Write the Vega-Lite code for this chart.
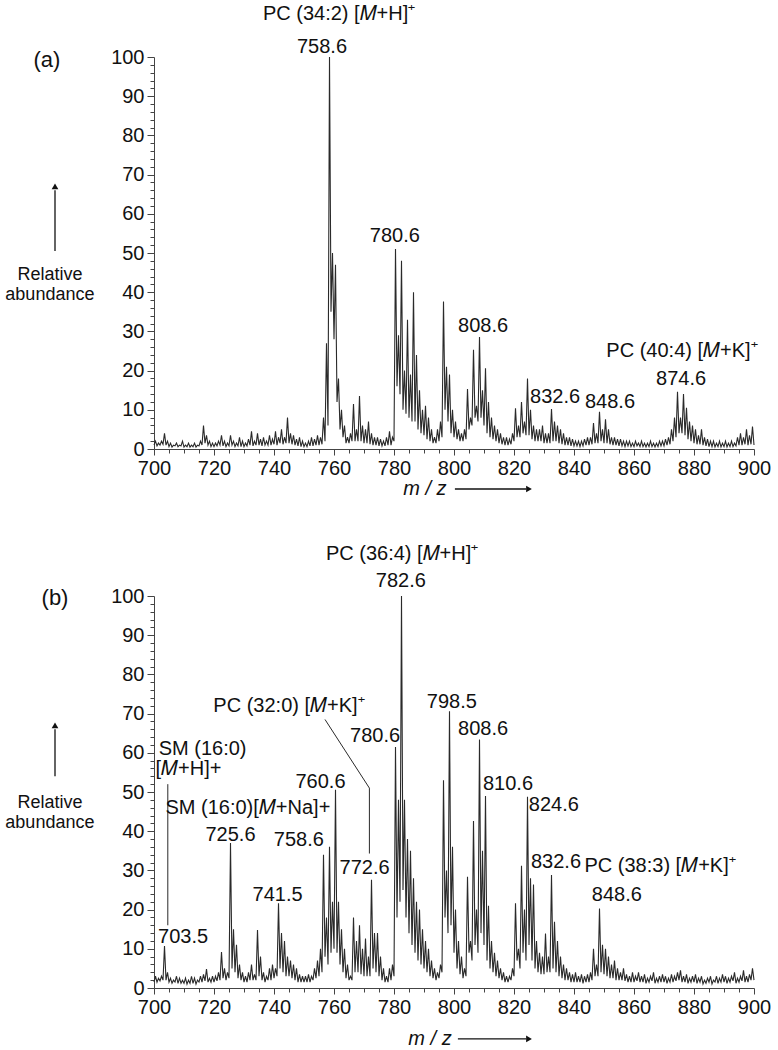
{
"$schema": "https://vega.github.io/schema/vega-lite/v6.json",
"background": "white",
"padding": {"left": 5, "top": 3, "right": 5, "bottom": 5},
"spacing": 45,
"config": {"view": {"stroke": null}, "font": "Liberation Sans",
 "axis": {"grid": false, "domainColor": "#444", "tickColor": "#444", "labelColor": "#111", "labelFont": "Liberation Sans", "labelFontSize": 20}},
"datasets": {
"specA": [{"m":700,"v":1},{"m":700.5,"v":2},{"m":701,"v":0.8},{"m":701.5,"v":1.5},{"m":702,"v":1},{"m":702.5,"v":2},{"m":703,"v":1.2},{"m":703.5,"v":4},{"m":704,"v":1},{"m":704.5,"v":2},{"m":705,"v":0.6},{"m":705.5,"v":1.5},{"m":706,"v":0.5},{"m":706.5,"v":1},{"m":707,"v":0.8},{"m":707.5,"v":1.5},{"m":708,"v":0.6},{"m":708.5,"v":1},{"m":709,"v":0.8},{"m":709.5,"v":2},
{"m":710,"v":0.5},{"m":710.5,"v":1},{"m":711,"v":0.6},{"m":711.5,"v":1.5},{"m":712,"v":0.5},{"m":712.5,"v":1},{"m":713,"v":0.6},{"m":713.5,"v":1.5},{"m":714,"v":0.5},{"m":714.5,"v":1},{"m":715,"v":0.8},{"m":715.5,"v":2},{"m":716,"v":1},{"m":716.5,"v":6},{"m":717,"v":1.5},{"m":717.5,"v":3.5},{"m":718,"v":1},{"m":718.5,"v":2},{"m":719,"v":0.6},{"m":719.5,"v":1.5},
{"m":720,"v":0.6},{"m":720.5,"v":1.5},{"m":721,"v":0.8},{"m":721.5,"v":2},{"m":722,"v":1},{"m":722.5,"v":3.5},{"m":723,"v":0.8},{"m":723.5,"v":2},{"m":724,"v":0.6},{"m":724.5,"v":1.5},{"m":725,"v":0.8},{"m":725.5,"v":3.5},{"m":726,"v":1},{"m":726.5,"v":2},{"m":727,"v":0.6},{"m":727.5,"v":1.5},{"m":728,"v":0.8},{"m":728.5,"v":3},{"m":729,"v":0.6},{"m":729.5,"v":2},
{"m":730,"v":0.6},{"m":730.5,"v":1.5},{"m":731,"v":0.8},{"m":731.5,"v":2.5},{"m":732,"v":1},{"m":732.5,"v":4.5},{"m":733,"v":0.8},{"m":733.5,"v":2},{"m":734,"v":1},{"m":734.5,"v":4},{"m":735,"v":1},{"m":735.5,"v":2.5},{"m":736,"v":0.8},{"m":736.5,"v":3},{"m":737,"v":1},{"m":737.5,"v":2},{"m":738,"v":1},{"m":738.5,"v":3.5},{"m":739,"v":1},{"m":739.5,"v":2.5},
{"m":740,"v":1.2},{"m":740.5,"v":4.5},{"m":741,"v":1},{"m":741.5,"v":3},{"m":742,"v":1.5},{"m":742.5,"v":5},{"m":743,"v":1.2},{"m":743.5,"v":3},{"m":744,"v":1.5},{"m":744.5,"v":8},{"m":745,"v":1.5},{"m":745.5,"v":4},{"m":746,"v":1.2},{"m":746.5,"v":3.5},{"m":747,"v":1},{"m":747.5,"v":2.5},{"m":748,"v":0.8},{"m":748.5,"v":3},{"m":749,"v":0.6},{"m":749.5,"v":2},
{"m":750,"v":0.6},{"m":750.5,"v":1.5},{"m":751,"v":0.6},{"m":751.5,"v":2},{"m":752,"v":0.8},{"m":752.5,"v":3},{"m":753,"v":0.8},{"m":753.5,"v":2.5},{"m":754,"v":1},{"m":754.5,"v":3.5},{"m":755,"v":1},{"m":755.5,"v":3},{"m":756,"v":1.2},{"m":756.5,"v":8},{"m":757,"v":2},{"m":757.5,"v":27},{"m":758,"v":6},{"m":758.5,"v":100},{"m":759,"v":35},{"m":759.5,"v":50},
{"m":760,"v":28},{"m":760.5,"v":47},{"m":761,"v":12},{"m":761.5,"v":18},{"m":762,"v":5},{"m":762.5,"v":10},{"m":763,"v":3},{"m":763.5,"v":6},{"m":764,"v":1.5},{"m":764.5,"v":3},{"m":765,"v":1.5},{"m":765.5,"v":4},{"m":766,"v":2},{"m":766.5,"v":11.5},{"m":767,"v":2},{"m":767.5,"v":5},{"m":768,"v":2},{"m":768.5,"v":13.5},{"m":769,"v":2},{"m":769.5,"v":6},
{"m":770,"v":1.5},{"m":770.5,"v":5},{"m":771,"v":1.5},{"m":771.5,"v":7},{"m":772,"v":1.2},{"m":772.5,"v":4},{"m":773,"v":1},{"m":773.5,"v":3},{"m":774,"v":1},{"m":774.5,"v":3},{"m":775,"v":0.8},{"m":775.5,"v":2.5},{"m":776,"v":0.8},{"m":776.5,"v":2},{"m":777,"v":0.8},{"m":777.5,"v":3},{"m":778,"v":1},{"m":778.5,"v":4.5},{"m":779,"v":1},{"m":779.5,"v":3},
{"m":780,"v":2},{"m":780.5,"v":51},{"m":781,"v":16},{"m":781.5,"v":29},{"m":782,"v":14},{"m":782.5,"v":48},{"m":783,"v":10},{"m":783.5,"v":20},{"m":784,"v":9},{"m":784.5,"v":33},{"m":785,"v":8},{"m":785.5,"v":19},{"m":786,"v":7},{"m":786.5,"v":40},{"m":787,"v":7},{"m":787.5,"v":24},{"m":788,"v":5},{"m":788.5,"v":15},{"m":789,"v":4},{"m":789.5,"v":10},
{"m":790,"v":3.5},{"m":790.5,"v":11},{"m":791,"v":2.5},{"m":791.5,"v":8},{"m":792,"v":2},{"m":792.5,"v":5},{"m":793,"v":1.5},{"m":793.5,"v":3},{"m":794,"v":1.5},{"m":794.5,"v":5},{"m":795,"v":2},{"m":795.5,"v":7},{"m":796,"v":3},{"m":796.5,"v":37.6},{"m":797,"v":10},{"m":797.5,"v":21},{"m":798,"v":7},{"m":798.5,"v":19},{"m":799,"v":4},{"m":799.5,"v":10},
{"m":800,"v":3},{"m":800.5,"v":7},{"m":801,"v":2.5},{"m":801.5,"v":5},{"m":802,"v":2},{"m":802.5,"v":4},{"m":803,"v":2},{"m":803.5,"v":5},{"m":804,"v":2.5},{"m":804.5,"v":15.3},{"m":805,"v":5},{"m":805.5,"v":8},{"m":806,"v":6},{"m":806.5,"v":25.3},{"m":807,"v":8},{"m":807.5,"v":11},{"m":808,"v":7},{"m":808.5,"v":28.6},{"m":809,"v":8},{"m":809.5,"v":15},
{"m":810,"v":6},{"m":810.5,"v":20.6},{"m":811,"v":4},{"m":811.5,"v":12},{"m":812,"v":3},{"m":812.5,"v":8},{"m":813,"v":2.5},{"m":813.5,"v":6},{"m":814,"v":2},{"m":814.5,"v":5},{"m":815,"v":1.5},{"m":815.5,"v":4},{"m":816,"v":1.2},{"m":816.5,"v":3},{"m":817,"v":1},{"m":817.5,"v":3},{"m":818,"v":1},{"m":818.5,"v":2.5},{"m":819,"v":1.2},{"m":819.5,"v":4},
{"m":820,"v":2},{"m":820.5,"v":10.4},{"m":821,"v":3},{"m":821.5,"v":6},{"m":822,"v":3},{"m":822.5,"v":12},{"m":823,"v":4},{"m":823.5,"v":7},{"m":824,"v":3.5},{"m":824.5,"v":18},{"m":825,"v":3.5},{"m":825.5,"v":10},{"m":826,"v":2.5},{"m":826.5,"v":6},{"m":827,"v":2},{"m":827.5,"v":5},{"m":828,"v":2},{"m":828.5,"v":5},{"m":829,"v":2},{"m":829.5,"v":6},
{"m":830,"v":1.5},{"m":830.5,"v":4},{"m":831,"v":1.5},{"m":831.5,"v":4},{"m":832,"v":1.5},{"m":832.5,"v":10.2},{"m":833,"v":2},{"m":833.5,"v":7},{"m":834,"v":2},{"m":834.5,"v":6},{"m":835,"v":1.5},{"m":835.5,"v":5},{"m":836,"v":1.2},{"m":836.5,"v":4},{"m":837,"v":1},{"m":837.5,"v":3},{"m":838,"v":1},{"m":838.5,"v":3},{"m":839,"v":0.8},{"m":839.5,"v":2.5},
{"m":840,"v":0.8},{"m":840.5,"v":2},{"m":841,"v":0.8},{"m":841.5,"v":2},{"m":842,"v":0.6},{"m":842.5,"v":2},{"m":843,"v":0.8},{"m":843.5,"v":2.5},{"m":844,"v":1},{"m":844.5,"v":3},{"m":845,"v":1},{"m":845.5,"v":3},{"m":846,"v":1.2},{"m":846.5,"v":6.6},{"m":847,"v":1.5},{"m":847.5,"v":4},{"m":848,"v":1.5},{"m":848.5,"v":9.5},{"m":849,"v":2},{"m":849.5,"v":5},
{"m":850,"v":1.5},{"m":850.5,"v":7.6},{"m":851,"v":1.5},{"m":851.5,"v":5},{"m":852,"v":1.2},{"m":852.5,"v":3},{"m":853,"v":1},{"m":853.5,"v":3},{"m":854,"v":1},{"m":854.5,"v":2.5},{"m":855,"v":0.8},{"m":855.5,"v":2.5},{"m":856,"v":0.8},{"m":856.5,"v":2},{"m":857,"v":0.6},{"m":857.5,"v":2},{"m":858,"v":0.8},{"m":858.5,"v":2},{"m":859,"v":0.6},{"m":859.5,"v":1.5},
{"m":860,"v":0.6},{"m":860.5,"v":2},{"m":861,"v":0.8},{"m":861.5,"v":1.5},{"m":862,"v":0.6},{"m":862.5,"v":2},{"m":863,"v":0.6},{"m":863.5,"v":1.5},{"m":864,"v":0.5},{"m":864.5,"v":1.5},{"m":865,"v":0.6},{"m":865.5,"v":2},{"m":866,"v":0.6},{"m":866.5,"v":1.5},{"m":867,"v":0.5},{"m":867.5,"v":1.5},{"m":868,"v":0.6},{"m":868.5,"v":2},{"m":869,"v":0.8},{"m":869.5,"v":2},
{"m":870,"v":0.8},{"m":870.5,"v":2.5},{"m":871,"v":1},{"m":871.5,"v":3},{"m":872,"v":1.2},{"m":872.5,"v":5},{"m":873,"v":2},{"m":873.5,"v":8},{"m":874,"v":3},{"m":874.5,"v":14.6},{"m":875,"v":4},{"m":875.5,"v":8},{"m":876,"v":4},{"m":876.5,"v":14},{"m":877,"v":3.5},{"m":877.5,"v":10.5},{"m":878,"v":2.5},{"m":878.5,"v":7},{"m":879,"v":2},{"m":879.5,"v":6},
{"m":880,"v":1.5},{"m":880.5,"v":5},{"m":881,"v":1.2},{"m":881.5,"v":3.5},{"m":882,"v":1.2},{"m":882.5,"v":5},{"m":883,"v":1},{"m":883.5,"v":3},{"m":884,"v":0.8},{"m":884.5,"v":2.5},{"m":885,"v":0.6},{"m":885.5,"v":2},{"m":886,"v":0.6},{"m":886.5,"v":2},{"m":887,"v":0.5},{"m":887.5,"v":1.5},{"m":888,"v":0.6},{"m":888.5,"v":2},{"m":889,"v":0.5},{"m":889.5,"v":1.5},
{"m":890,"v":0.6},{"m":890.5,"v":2},{"m":891,"v":0.5},{"m":891.5,"v":1.5},{"m":892,"v":0.6},{"m":892.5,"v":2},{"m":893,"v":0.6},{"m":893.5,"v":1.5},{"m":894,"v":0.8},{"m":894.5,"v":3},{"m":895,"v":1},{"m":895.5,"v":4},{"m":896,"v":1},{"m":896.5,"v":3},{"m":897,"v":1.2},{"m":897.5,"v":5},{"m":898,"v":1},{"m":898.5,"v":3.5},{"m":899,"v":1.2},{"m":899.5,"v":5.7},{"m":900,"v":1}],
"specB": [{"m":700,"v":1.5},{"m":700.5,"v":3},{"m":701,"v":1.5},{"m":701.5,"v":2.5},{"m":702,"v":1.8},{"m":702.5,"v":3},{"m":703,"v":2},{"m":703.5,"v":10.7},{"m":704,"v":2},{"m":704.5,"v":4},{"m":705,"v":1.5},{"m":705.5,"v":2.5},{"m":706,"v":1.2},{"m":706.5,"v":2},{"m":707,"v":1.5},{"m":707.5,"v":3},{"m":708,"v":1.2},{"m":708.5,"v":2.5},{"m":709,"v":1.2},{"m":709.5,"v":2},
{"m":710,"v":1.2},{"m":710.5,"v":2.5},{"m":711,"v":1},{"m":711.5,"v":2},{"m":712,"v":1.2},{"m":712.5,"v":3},{"m":713,"v":1.2},{"m":713.5,"v":2.5},{"m":714,"v":1},{"m":714.5,"v":2},{"m":715,"v":1.5},{"m":715.5,"v":3},{"m":716,"v":1.5},{"m":716.5,"v":3.5},{"m":717,"v":1.8},{"m":717.5,"v":4.8},{"m":718,"v":1.5},{"m":718.5,"v":2.5},{"m":719,"v":1.5},{"m":719.5,"v":3},
{"m":720,"v":1.5},{"m":720.5,"v":3},{"m":721,"v":1.8},{"m":721.5,"v":4},{"m":722,"v":2},{"m":722.5,"v":9.2},{"m":723,"v":2.5},{"m":723.5,"v":5},{"m":724,"v":2},{"m":724.5,"v":4},{"m":725,"v":2.5},{"m":725.5,"v":37},{"m":726,"v":5},{"m":726.5,"v":15},{"m":727,"v":4},{"m":727.5,"v":11},{"m":728,"v":2.5},{"m":728.5,"v":6},{"m":729,"v":2},{"m":729.5,"v":4},
{"m":730,"v":1.5},{"m":730.5,"v":3},{"m":731,"v":1.5},{"m":731.5,"v":4},{"m":732,"v":2},{"m":732.5,"v":6},{"m":733,"v":2},{"m":733.5,"v":3.5},{"m":734,"v":2},{"m":734.5,"v":14.8},{"m":735,"v":3},{"m":735.5,"v":8},{"m":736,"v":2},{"m":736.5,"v":4},{"m":737,"v":1.5},{"m":737.5,"v":3},{"m":738,"v":2},{"m":738.5,"v":5},{"m":739,"v":2},{"m":739.5,"v":6},
{"m":740,"v":2.5},{"m":740.5,"v":5},{"m":741,"v":3},{"m":741.5,"v":21.6},{"m":742,"v":5},{"m":742.5,"v":14},{"m":743,"v":4},{"m":743.5,"v":12},{"m":744,"v":3},{"m":744.5,"v":8},{"m":745,"v":3},{"m":745.5,"v":7},{"m":746,"v":2.5},{"m":746.5,"v":6},{"m":747,"v":2},{"m":747.5,"v":5},{"m":748,"v":1.5},{"m":748.5,"v":3.5},{"m":749,"v":1.5},{"m":749.5,"v":3},
{"m":750,"v":1.5},{"m":750.5,"v":3},{"m":751,"v":1.5},{"m":751.5,"v":3.5},{"m":752,"v":1.5},{"m":752.5,"v":3},{"m":753,"v":2},{"m":753.5,"v":5},{"m":754,"v":2.5},{"m":754.5,"v":7},{"m":755,"v":3},{"m":755.5,"v":10},{"m":756,"v":4},{"m":756.5,"v":34},{"m":757,"v":8},{"m":757.5,"v":18},{"m":758,"v":6},{"m":758.5,"v":36},{"m":759,"v":9},{"m":759.5,"v":22},
{"m":760,"v":10},{"m":760.5,"v":50.6},{"m":761,"v":9},{"m":761.5,"v":22},{"m":762,"v":6},{"m":762.5,"v":15},{"m":763,"v":4},{"m":763.5,"v":10},{"m":764,"v":2.5},{"m":764.5,"v":6},{"m":765,"v":2},{"m":765.5,"v":3},{"m":766,"v":2},{"m":766.5,"v":18},{"m":767,"v":4},{"m":767.5,"v":12},{"m":768,"v":4},{"m":768.5,"v":16},{"m":769,"v":3.5},{"m":769.5,"v":10},
{"m":770,"v":3},{"m":770.5,"v":12.6},{"m":771,"v":3},{"m":771.5,"v":8},{"m":772,"v":3},{"m":772.5,"v":27.6},{"m":773,"v":5},{"m":773.5,"v":14},{"m":774,"v":4},{"m":774.5,"v":14},{"m":775,"v":3},{"m":775.5,"v":8},{"m":776,"v":2},{"m":776.5,"v":5},{"m":777,"v":1.5},{"m":777.5,"v":3},{"m":778,"v":1.5},{"m":778.5,"v":5},{"m":779,"v":2},{"m":779.5,"v":6},
{"m":780,"v":3},{"m":780.5,"v":61.5},{"m":781,"v":18},{"m":781.5,"v":48},{"m":782,"v":22},{"m":782.5,"v":100},{"m":783,"v":25},{"m":783.5,"v":48},{"m":784,"v":18},{"m":784.5,"v":38},{"m":785,"v":14},{"m":785.5,"v":35},{"m":786,"v":11},{"m":786.5,"v":28},{"m":787,"v":9},{"m":787.5,"v":22},{"m":788,"v":7},{"m":788.5,"v":20},{"m":789,"v":6},{"m":789.5,"v":15},
{"m":790,"v":5},{"m":790.5,"v":12},{"m":791,"v":4},{"m":791.5,"v":10},{"m":792,"v":3},{"m":792.5,"v":7},{"m":793,"v":2.5},{"m":793.5,"v":5},{"m":794,"v":2},{"m":794.5,"v":4},{"m":795,"v":2.5},{"m":795.5,"v":6},{"m":796,"v":4},{"m":796.5,"v":53},{"m":797,"v":18},{"m":797.5,"v":30},{"m":798,"v":14},{"m":798.5,"v":70.6},{"m":799,"v":16},{"m":799.5,"v":36},
{"m":800,"v":9},{"m":800.5,"v":20},{"m":801,"v":5},{"m":801.5,"v":12},{"m":802,"v":3.5},{"m":802.5,"v":8},{"m":803,"v":2.5},{"m":803.5,"v":5},{"m":804,"v":3},{"m":804.5,"v":28.4},{"m":805,"v":9},{"m":805.5,"v":12},{"m":806,"v":7},{"m":806.5,"v":42.6},{"m":807,"v":11},{"m":807.5,"v":20},{"m":808,"v":9},{"m":808.5,"v":63.4},{"m":809,"v":14},{"m":809.5,"v":35},
{"m":810,"v":11},{"m":810.5,"v":49},{"m":811,"v":7},{"m":811.5,"v":21},{"m":812,"v":5},{"m":812.5,"v":12},{"m":813,"v":4},{"m":813.5,"v":9},{"m":814,"v":3},{"m":814.5,"v":7},{"m":815,"v":2.5},{"m":815.5,"v":5},{"m":816,"v":2},{"m":816.5,"v":4},{"m":817,"v":1.5},{"m":817.5,"v":3},{"m":818,"v":1.5},{"m":818.5,"v":3},{"m":819,"v":2},{"m":819.5,"v":5},
{"m":820,"v":3},{"m":820.5,"v":21.6},{"m":821,"v":7},{"m":821.5,"v":10},{"m":822,"v":5},{"m":822.5,"v":31.2},{"m":823,"v":9},{"m":823.5,"v":20},{"m":824,"v":7},{"m":824.5,"v":48.8},{"m":825,"v":11},{"m":825.5,"v":28},{"m":826,"v":7},{"m":826.5,"v":26.4},{"m":827,"v":5},{"m":827.5,"v":12},{"m":828,"v":4},{"m":828.5,"v":9},{"m":829,"v":3.5},{"m":829.5,"v":8},
{"m":830,"v":3.5},{"m":830.5,"v":13.9},{"m":831,"v":4},{"m":831.5,"v":8},{"m":832,"v":4},{"m":832.5,"v":28.8},{"m":833,"v":5},{"m":833.5,"v":16.9},{"m":834,"v":4},{"m":834.5,"v":12},{"m":835,"v":3},{"m":835.5,"v":8},{"m":836,"v":2.5},{"m":836.5,"v":6},{"m":837,"v":2},{"m":837.5,"v":5},{"m":838,"v":2},{"m":838.5,"v":4},{"m":839,"v":1.5},{"m":839.5,"v":3.5},
{"m":840,"v":1.5},{"m":840.5,"v":4},{"m":841,"v":1.5},{"m":841.5,"v":3},{"m":842,"v":1.5},{"m":842.5,"v":3.5},{"m":843,"v":1.2},{"m":843.5,"v":3},{"m":844,"v":1.5},{"m":844.5,"v":3.5},{"m":845,"v":1.5},{"m":845.5,"v":4},{"m":846,"v":2},{"m":846.5,"v":10},{"m":847,"v":3},{"m":847.5,"v":6},{"m":848,"v":3},{"m":848.5,"v":20.3},{"m":849,"v":4},{"m":849.5,"v":11},
{"m":850,"v":3.5},{"m":850.5,"v":10},{"m":851,"v":3},{"m":851.5,"v":8},{"m":852,"v":2.5},{"m":852.5,"v":6},{"m":853,"v":2.5},{"m":853.5,"v":7},{"m":854,"v":2},{"m":854.5,"v":5},{"m":855,"v":2},{"m":855.5,"v":4},{"m":856,"v":2},{"m":856.5,"v":5},{"m":857,"v":1.8},{"m":857.5,"v":3.5},{"m":858,"v":1.5},{"m":858.5,"v":3},{"m":859,"v":1.5},{"m":859.5,"v":4},
{"m":860,"v":1.5},{"m":860.5,"v":3},{"m":861,"v":1.8},{"m":861.5,"v":4},{"m":862,"v":1.5},{"m":862.5,"v":3},{"m":863,"v":1.5},{"m":863.5,"v":3.5},{"m":864,"v":1.2},{"m":864.5,"v":2.5},{"m":865,"v":1.5},{"m":865.5,"v":3},{"m":866,"v":1.8},{"m":866.5,"v":4},{"m":867,"v":1.2},{"m":867.5,"v":2.5},{"m":868,"v":1.5},{"m":868.5,"v":3},{"m":869,"v":1.5},{"m":869.5,"v":3.5},
{"m":870,"v":1.5},{"m":870.5,"v":3},{"m":871,"v":1.2},{"m":871.5,"v":2.5},{"m":872,"v":1.5},{"m":872.5,"v":3.5},{"m":873,"v":1.5},{"m":873.5,"v":3},{"m":874,"v":1.8},{"m":874.5,"v":4},{"m":875,"v":2},{"m":875.5,"v":4.5},{"m":876,"v":1.5},{"m":876.5,"v":3},{"m":877,"v":1.5},{"m":877.5,"v":3.5},{"m":878,"v":1.2},{"m":878.5,"v":2.5},{"m":879,"v":1.5},{"m":879.5,"v":3},
{"m":880,"v":1.5},{"m":880.5,"v":3.5},{"m":881,"v":1.2},{"m":881.5,"v":2.5},{"m":882,"v":1.5},{"m":882.5,"v":3},{"m":883,"v":1},{"m":883.5,"v":2},{"m":884,"v":1.2},{"m":884.5,"v":2.5},{"m":885,"v":1.5},{"m":885.5,"v":3},{"m":886,"v":1},{"m":886.5,"v":2},{"m":887,"v":1.5},{"m":887.5,"v":3},{"m":888,"v":1.2},{"m":888.5,"v":2.5},{"m":889,"v":1.5},{"m":889.5,"v":3.5},
{"m":890,"v":1.5},{"m":890.5,"v":3},{"m":891,"v":1.2},{"m":891.5,"v":2.5},{"m":892,"v":1.5},{"m":892.5,"v":3},{"m":893,"v":1.8},{"m":893.5,"v":4},{"m":894,"v":1.2},{"m":894.5,"v":2.5},{"m":895,"v":1.5},{"m":895.5,"v":3},{"m":896,"v":1.8},{"m":896.5,"v":4.5},{"m":897,"v":1.5},{"m":897.5,"v":3},{"m":898,"v":1.5},{"m":898.5,"v":3.5},{"m":899,"v":2},{"m":899.5,"v":5},{"m":900,"v":2}],
"labA": [{"m":761.7,"v":111,"t":"PC (34:2) [𝑀+H]⁺"},{"m":756,"v":102.6,"t":"758.6"},{"m":780.3,"v":54.3,"t":"780.6"},{"m":809.7,"v":31.4,"t":"808.6"},{"m":833.7,"v":13.3,"t":"832.6"},{"m":852,"v":12,"t":"848.6"},{"m":875.7,"v":17.9,"t":"874.6"},{"m":876,"v":25,"t":"PC (40:4) [𝑀+K]⁺"}],
"labB": [{"m":782.7,"v":110.7,"t":"PC (36:4) [𝑀+H]⁺"},{"m":782.3,"v":103.8,"t":"782.6"},{"m":799.3,"v":73,"t":"798.5"},{"m":809.7,"v":66,"t":"808.6"},{"m":818,"v":52,"t":"810.6"},{"m":833.3,"v":46.8,"t":"824.6"},{"m":834,"v":32.2,"t":"832.6"},{"m":868.7,"v":31,"t":"PC (38:3) [𝑀+K]⁺"},{"m":854.3,"v":23.8,"t":"848.6"},{"m":709.7,"v":13,"t":"703.5"},{"m":716.2,"v":61,"t":"SM (16:0)"},{"m":711.5,"v":55.8,"t":"[𝑀+H]+"},{"m":731.3,"v":45.8,"t":"SM (16:0)[𝑀+Na]+"},{"m":725.5,"v":39,"t":"725.6"},{"m":741.2,"v":23.8,"t":"741.5"},{"m":748.3,"v":37.8,"t":"758.6"},{"m":755.5,"v":52.5,"t":"760.6"},{"m":770.2,"v":30.7,"t":"772.6"},{"m":773.7,"v":64.2,"t":"780.6"},{"m":745,"v":71.9,"t":"PC (32:0) [𝑀+K]⁺"}],
"letA": [{"m":664.3,"v":99.2,"t":"(a)"}],
"letB": [{"m":667,"v":99.5,"t":"(b)"}],
"ytA": [{"m":665.3,"v":44.5,"t":"Relative\nabundance"}],
"ytB": [{"m":665.3,"v":47.2,"t":"Relative\nabundance"}],
"xtA": [{"m":790.3,"v":-10.2,"t":"m / z"}],
"xtB": [{"m":792,"v":-13,"t":"m / z"}],
"arrA": [{"m":667,"m2":667,"v":50.5,"v2":66},{"m":800.3,"m2":824,"v":-10.2,"v2":-10.2}],
"arrB": [{"m":667,"m2":667,"v":54,"v2":66},{"m":801.3,"m2":824,"v":-13,"v2":-13}],
"upA": [{"m":667,"v":67}],
"upB": [{"m":667,"v":67}],
"rtA": [{"m":825,"v":-10.2}],
"rtB": [{"m":825,"v":-13}],
"leadB": [{"g":1,"o":1,"m":704.6,"v":16},{"g":1,"o":2,"m":704.6,"v":52},{"g":2,"o":1,"m":757,"v":68.5},{"g":2,"o":2,"m":771.8,"v":51},{"g":2,"o":3,"m":771.8,"v":34.3}]
},
"vconcat": [
{
"width": 600, "height": 392,
"encoding": {
 "x": {"field": "m", "type": "quantitative", "title": null, "scale": {"domain": [700, 900], "nice": false, "zero": false},
  "axis": {"values": [700,705,710,715,720,725,730,735,740,745,750,755,760,765,770,775,780,785,790,795,800,805,810,815,820,825,830,835,840,845,850,855,860,865,870,875,880,885,890,895,900],
   "labelExpr": "datum.value % 20 === 0 ? datum.label : ''", "labelOverlap": false, "labelFlush": false, "labelPadding": 3,
   "tickSize": {"condition": {"test": "datum.value % 20 === 0", "value": 6}, "value": 4}}},
 "y": {"field": "v", "type": "quantitative", "title": null, "scale": {"domain": [0, 100], "nice": false},
  "axis": {"values": [0,2,4,6,8,10,12,14,16,18,20,22,24,26,28,30,32,34,36,38,40,42,44,46,48,50,52,54,56,58,60,62,64,66,68,70,72,74,76,78,80,82,84,86,88,90,92,94,96,98,100],
   "labelExpr": "datum.value % 10 === 0 ? datum.label : ''", "labelOverlap": false, "labelPadding": 3,
   "tickSize": {"condition": {"test": "datum.value % 10 === 0", "value": 7}, "value": 4}}}
},
"layer": [
 {"data": {"name": "specA"}, "mark": {"type": "line", "color": "#2a2a2a", "strokeWidth": 1.1}},
 {"data": {"name": "labA"}, "mark": {"type": "text", "font": "Liberation Sans", "fontSize": 20, "color": "#111", "baseline": "middle", "align": "center"}, "encoding": {"text": {"field": "t"}}},
 {"data": {"name": "letA"}, "mark": {"type": "text", "font": "Liberation Sans", "fontSize": 22, "color": "#111", "baseline": "middle", "align": "center"}, "encoding": {"text": {"field": "t"}}},
 {"data": {"name": "ytA"}, "mark": {"type": "text", "font": "Liberation Sans", "fontSize": 18, "lineHeight": 20, "lineBreak": "\n", "color": "#111", "baseline": "middle", "align": "center"}, "encoding": {"text": {"field": "t"}}},
 {"data": {"name": "xtA"}, "mark": {"type": "text", "font": "Liberation Sans", "fontSize": 20, "fontStyle": "italic", "color": "#111", "baseline": "middle", "align": "center"}, "encoding": {"text": {"field": "t"}}},
 {"data": {"name": "arrA"}, "mark": {"type": "rule", "color": "#111", "strokeWidth": 1.3}, "encoding": {"x2": {"field": "m2"}, "y2": {"field": "v2"}}},
 {"data": {"name": "upA"}, "mark": {"type": "point", "shape": "triangle-up", "filled": true, "size": 45, "color": "#111", "opacity": 1}},
 {"data": {"name": "rtA"}, "mark": {"type": "point", "shape": "triangle-right", "filled": true, "size": 45, "color": "#111", "opacity": 1}}
]
},
{
"width": 600, "height": 392,
"encoding": {
 "x": {"field": "m", "type": "quantitative", "title": null, "scale": {"domain": [700, 900], "nice": false, "zero": false},
  "axis": {"values": [700,705,710,715,720,725,730,735,740,745,750,755,760,765,770,775,780,785,790,795,800,805,810,815,820,825,830,835,840,845,850,855,860,865,870,875,880,885,890,895,900],
   "labelExpr": "datum.value % 20 === 0 ? datum.label : ''", "labelOverlap": false, "labelFlush": false, "labelPadding": 3,
   "tickSize": {"condition": {"test": "datum.value % 20 === 0", "value": 6}, "value": 4}}},
 "y": {"field": "v", "type": "quantitative", "title": null, "scale": {"domain": [0, 100], "nice": false},
  "axis": {"values": [0,2,4,6,8,10,12,14,16,18,20,22,24,26,28,30,32,34,36,38,40,42,44,46,48,50,52,54,56,58,60,62,64,66,68,70,72,74,76,78,80,82,84,86,88,90,92,94,96,98,100],
   "labelExpr": "datum.value % 10 === 0 ? datum.label : ''", "labelOverlap": false, "labelPadding": 3,
   "tickSize": {"condition": {"test": "datum.value % 10 === 0", "value": 7}, "value": 4}}}
},
"layer": [
 {"data": {"name": "specB"}, "mark": {"type": "line", "color": "#2a2a2a", "strokeWidth": 1.1}},
 {"data": {"name": "leadB"}, "mark": {"type": "line", "color": "#2a2a2a", "strokeWidth": 1}, "encoding": {"detail": {"field": "g"}, "order": {"field": "o"}}},
 {"data": {"name": "labB"}, "mark": {"type": "text", "font": "Liberation Sans", "fontSize": 20, "color": "#111", "baseline": "middle", "align": "center"}, "encoding": {"text": {"field": "t"}}},
 {"data": {"name": "letB"}, "mark": {"type": "text", "font": "Liberation Sans", "fontSize": 22, "color": "#111", "baseline": "middle", "align": "center"}, "encoding": {"text": {"field": "t"}}},
 {"data": {"name": "ytB"}, "mark": {"type": "text", "font": "Liberation Sans", "fontSize": 18, "lineHeight": 20, "lineBreak": "\n", "color": "#111", "baseline": "middle", "align": "center"}, "encoding": {"text": {"field": "t"}}},
 {"data": {"name": "xtB"}, "mark": {"type": "text", "font": "Liberation Sans", "fontSize": 20, "fontStyle": "italic", "color": "#111", "baseline": "middle", "align": "center"}, "encoding": {"text": {"field": "t"}}},
 {"data": {"name": "arrB"}, "mark": {"type": "rule", "color": "#111", "strokeWidth": 1.3}, "encoding": {"x2": {"field": "m2"}, "y2": {"field": "v2"}}},
 {"data": {"name": "upB"}, "mark": {"type": "point", "shape": "triangle-up", "filled": true, "size": 45, "color": "#111", "opacity": 1}},
 {"data": {"name": "rtB"}, "mark": {"type": "point", "shape": "triangle-right", "filled": true, "size": 45, "color": "#111", "opacity": 1}}
]
}
]
}
